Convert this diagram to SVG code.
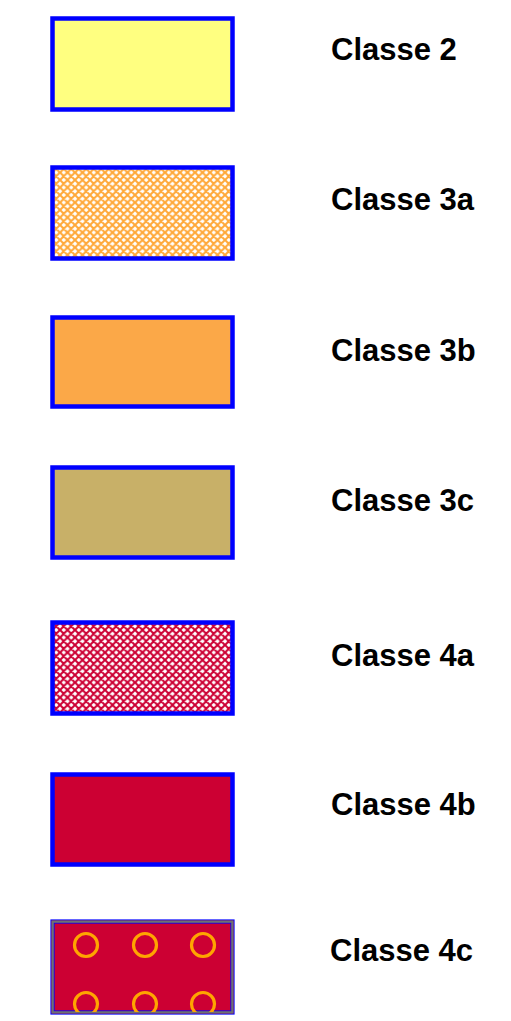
<svg xmlns="http://www.w3.org/2000/svg" width="511" height="1021" viewBox="0 0 511 1021">
<defs>
<pattern id="hatchO" width="7.5" height="7.5" patternUnits="userSpaceOnUse">
<path d="M0,0 L7.5,7.5 M7.5,0 L0,7.5 M-1,6.5 L1,8.5 M6.5,-1 L8.5,1 M-1,1 L1,-1 M6.5,8.5 L8.5,6.5" stroke="#FFA838" stroke-width="2.1" fill="none"/>
</pattern>
<pattern id="hatchR" width="7.5" height="7.5" patternUnits="userSpaceOnUse">
<path d="M0,0 L7.5,7.5 M7.5,0 L0,7.5 M-1,6.5 L1,8.5 M6.5,-1 L8.5,1 M-1,1 L1,-1 M6.5,8.5 L8.5,6.5" stroke="#CC0033" stroke-width="2.1" fill="none"/>
</pattern>
<clipPath id="clip4c"><rect x="54" y="922" width="177" height="90"/></clipPath>
</defs>
<style>
.box{stroke:#0000FF;stroke-width:4.5}
.lbl{font-family:"Liberation Sans",Arial,sans-serif;font-weight:bold;font-size:31px;fill:#000}
.ring{fill:none;stroke:#FFA500;stroke-width:3.2}
</style>
<g id="n-classe2"><rect class="box" x="52.5" y="18.5" width="180" height="91" fill="#FFFF80"/><text class="lbl" x="331" y="60">Classe 2</text></g>
<g id="n-classe3a"><rect x="52.5" y="167.5" width="180" height="91" fill="#FFFFFF"/><rect class="box" x="52.5" y="167.5" width="180" height="91" fill="url(#hatchO)"/><text class="lbl" x="331" y="210">Classe 3a</text></g>
<g id="n-classe3b"><rect class="box" x="52.5" y="317.5" width="180" height="89" fill="#FBA848"/><text class="lbl" x="331" y="361">Classe 3b</text></g>
<g id="n-classe3c"><rect class="box" x="52.5" y="467.5" width="180" height="90" fill="#C8B068"/><text class="lbl" x="331" y="511">Classe 3c</text></g>
<g id="n-classe4a"><rect x="52.5" y="622.5" width="180" height="91" fill="#FFFFFF"/><rect class="box" x="52.5" y="622.5" width="180" height="91" fill="url(#hatchR)"/><text class="lbl" x="331" y="666">Classe 4a</text></g>
<g id="n-classe4b"><rect class="box" x="52.5" y="774.5" width="180" height="90" fill="#CC0033"/><text class="lbl" x="331" y="815">Classe 4b</text></g>
<g id="n-classe4c">
<rect x="51" y="920" width="183" height="94" fill="#CC0033" stroke="#0000FF" stroke-width="1.2"/>
<rect x="52.8" y="921.8" width="179.4" height="90.4" fill="none" stroke="#707070" stroke-width="2.6"/>
<rect x="54.2" y="923.2" width="176.6" height="87.6" fill="none" stroke="#0000FF" stroke-width="0.8"/>
<g clip-path="url(#clip4c)">
<circle class="ring" cx="86" cy="945" r="11.5"/><circle class="ring" cx="145" cy="945" r="11.5"/><circle class="ring" cx="203" cy="945" r="11.5"/>
<circle class="ring" cx="86" cy="1004" r="11.5"/><circle class="ring" cx="145" cy="1004" r="11.5"/><circle class="ring" cx="203" cy="1004" r="11.5"/>
</g>
<text class="lbl" x="330" y="961">Classe 4c</text></g>
<g id="connectors"/>
</svg>
